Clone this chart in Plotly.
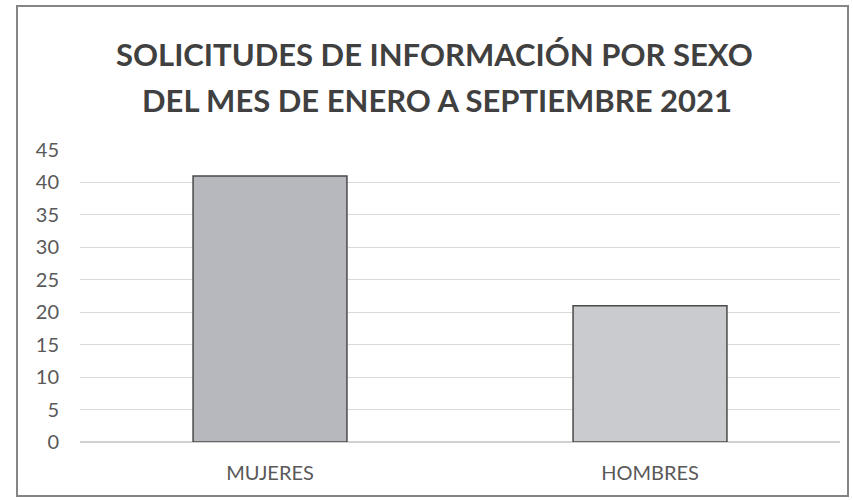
import plotly.graph_objects as go

categories = ["MUJERES", "HOMBRES"]
values = [41, 21]
bar_colors = ["#b7b8bd", "#cacbcf"]
y_ticks = [0, 5, 10, 15, 20, 25, 30, 35, 40, 45]
title_lines = ["SOLICITUDES DE INFORMACIÓN POR SEXO", "DEL MES DE ENERO A SEPTIEMBRE 2021"]

# plot area in pixels: left 80, right 840, top 150, bottom 442
L, R, T, B = 80, 840, 150, 442
def px_x(x):
    return (x - L) / (R - L)
def px_y(y):
    return (B - y) / (B - T)

fig = go.Figure()
fig.add_trace(go.Bar(
    x=categories, y=values,
    marker=dict(color=bar_colors, line=dict(color="#4a4a4a", width=1.5)),
    width=0.405,
))

fig.update_layout(
    width=853, height=500,
    margin=dict(l=L, r=853 - R, t=T, b=500 - B),
    paper_bgcolor="white", plot_bgcolor="white",
    showlegend=False,
    font=dict(family="Lato", color="#595959"),
)
for line, xp, yp in zip(title_lines, [434, 437], [54, 100]):
    fig.add_annotation(
        text=line, xref="paper", yref="paper", x=px_x(xp), y=px_y(yp),
        xanchor="center", yanchor="middle", showarrow=False,
        font=dict(family="Lato", size=31, color="#404040", weight="bold"),
    )
fig.update_yaxes(
    range=[0, 45], tickvals=y_ticks, showgrid=True, gridcolor="#d9d9d9", gridwidth=1,
    zeroline=True, zerolinecolor="#d0d0d0", zerolinewidth=1.5,
    tickfont=dict(size=20, color="#595959"), ticks="", ticklabelstandoff=20,
    automargin=False,
)
fig.update_xaxes(
    tickfont=dict(size=20, color="#595959"), showline=False, ticklabelstandoff=17,
    automargin=False,
)
fig.add_shape(type="rect", xref="paper", yref="paper",
              x0=px_x(17), x1=px_x(848), y0=px_y(496), y1=px_y(6),
              line=dict(color="#858585", width=2), layer="below")
fig.write_html("out.html", config={"displayModeBar": False},
               post_script="document.body.style.margin='0px';")
